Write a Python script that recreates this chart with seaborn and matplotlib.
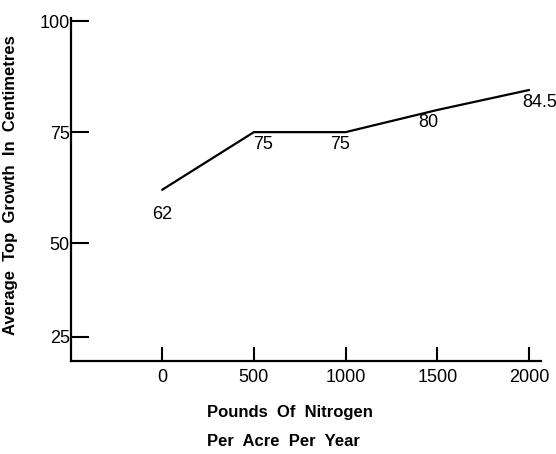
import numpy as np
import pandas as pd
import seaborn as sns
import matplotlib.pyplot as plt

# data
nitrogen = [0, 500, 1000, 1500, 2000]
growth = [62, 75, 75, 80, 84.5]
point_labels = ['62', '75', '75', '80', '84.5']
y_ticks = [25, 50, 75, 100]
x_ticks = [0, 500, 1000, 1500, 2000]

df = pd.DataFrame({'Nitrogen': nitrogen, 'Growth': growth})

sns.set_style('ticks')
plt.rcParams['font.family'] = ['Liberation Sans', 'DejaVu Sans']
plt.rcParams['text.color'] = 'black'
plt.rcParams['axes.labelcolor'] = 'black'
plt.rcParams['xtick.color'] = 'black'
plt.rcParams['ytick.color'] = 'black'

fig = plt.figure(figsize=(5.56, 4.54), dpi=100)
ax = fig.add_axes([0.128, 0.205, 0.845, 0.755])

sns.lineplot(data=df, x='Nitrogen', y='Growth', color='black', linewidth=1.6, ax=ax)


# the hand-drawn axis has a shorter 25-50 step than the others
def fwd(v):
    v = np.asarray(v, dtype=float)
    return np.where(v >= 50, v, 50 - (50 - v) * 94 / 111)


def inv(u):
    u = np.asarray(u, dtype=float)
    return np.where(u >= 50, u, 50 - (50 - u) * 111 / 94)


ax.set_yscale('function', functions=(fwd, inv))
ax.set_xlim(-496, 2065)
ax.set_ylim(18.6, 100.7)

# value labels under each point
offsets = [(0, -5.5), (10, -2.8), (-6, -2.8), (-10, -2.8), (12, -2.8)]
for xv, yv, lab, (dx, dy) in zip(nitrogen, growth, point_labels, offsets):
    ax.text(xv + dx * 5, yv + dy, lab, ha='center', va='center', fontsize=13,
            clip_on=False)

ax.set_xticks(x_ticks)
ax.set_yticks(y_ticks)
ax.set_xticklabels([str(t) for t in x_ticks], fontsize=13)
ax.set_yticklabels([str(t) for t in y_ticks], fontsize=13)
ax.tick_params(axis='y', direction='in', length=13, width=1.5, pad=1)
ax.tick_params(axis='x', direction='in', length=10, width=1.5, pad=6)

for side in ['top', 'right']:
    ax.spines[side].set_visible(False)
for side in ['left', 'bottom']:
    ax.spines[side].set_linewidth(1.6)
    ax.spines[side].set_color('black')

ax.set_ylabel('Average  Top  Growth  In  Centimetres', fontsize=12, fontweight='bold')
ax.yaxis.set_label_coords(-0.113, 0.513)
ax.set_xlabel('Pounds  Of  Nitrogen\n\nPer  Acre  Per  Year', fontsize=12,
              fontweight='bold', linespacing=0.95)
ax.xaxis.label.set_va('top')
ax.xaxis.label.set_ha('left')
ax.xaxis.set_label_coords(0.289, -0.13)

plt.savefig('out.png', dpi=100)
